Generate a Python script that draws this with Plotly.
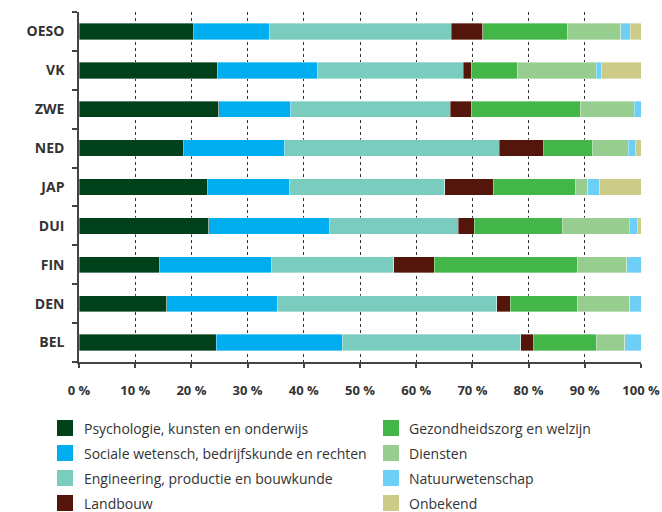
import plotly.graph_objects as go

countries = ["OESO", "VK", "ZWE", "NED", "JAP", "DUI", "FIN", "DEN", "BEL"]
psychologie = [20.4, 24.6, 24.9, 18.6, 22.9, 23.1, 14.4, 15.6, 24.4]
sociale = [13.5, 17.8, 12.8, 18.0, 14.6, 21.5, 19.9, 19.8, 22.4]
engineering = [32.3, 26.0, 28.4, 38.2, 27.6, 22.9, 21.7, 38.9, 31.8]
landbouw = [5.6, 1.4, 3.7, 7.9, 8.6, 2.8, 7.2, 2.4, 2.3]
gezondheid = [15.1, 8.2, 19.4, 8.7, 14.7, 15.7, 25.5, 12.0, 11.1]
diensten = [9.5, 14.0, 9.6, 6.3, 2.1, 11.9, 8.8, 9.3, 5.1]
natuur = [1.7, 1.0, 1.2, 1.3, 2.2, 1.4, 2.5, 2.0, 2.9]
onbekend = [1.9, 7.0, 0.0, 1.0, 7.3, 0.7, 0.0, 0.0, 0.0]

series_names = [
    "Psychologie, kunsten en onderwijs",
    "Sociale wetensch, bedrijfskunde en rechten",
    "Engineering, productie en bouwkunde",
    "Landbouw",
    "Gezondheidszorg en welzijn",
    "Diensten",
    "Natuurwetenschap",
    "Onbekend",
]
series_values = [psychologie, sociale, engineering, landbouw,
                 gezondheid, diensten, natuur, onbekend]
colors = ["#00401b", "#00aeef", "#7accbe", "#54150b",
          "#42b649", "#97cd8f", "#6dcff6", "#cccb87"]

xtick_values = list(range(0, 101, 10))
xtick_labels = [f"{v} %" for v in xtick_values]

FONT = "Open Sans"
TXT = "#333333"

fig = go.Figure()
for name, vals, col in zip(series_names, series_values, colors):
    fig.add_trace(go.Bar(
        y=countries, x=vals, name=name, orientation="h",
        marker=dict(color=col, line=dict(width=0.6, color="rgba(255,255,255,0.6)")),
        width=0.42, showlegend=False,
    ))

# plot area geometry (pixels) used to place the manual legend
L, R, T, B = 79, 641, 12, 362
W, H = R - L, B - T

def px2paper(px, py):
    return (px - L) / W, (B - py) / H

shapes = []
annotations = []
rows_y = [428, 453, 478, 503]
cols = [(57, 84), (383, 409)]
for i, (name, col) in enumerate(zip(series_names, colors)):
    c = i // 4
    r = i % 4
    sx, tx = cols[c]
    cy = rows_y[r]
    x0, y0 = px2paper(sx, cy + 8)
    x1, y1 = px2paper(sx + 16, cy - 8)
    shapes.append(dict(type="rect", xref="paper", yref="paper",
                       x0=x0, x1=x1, y0=y0, y1=y1,
                       fillcolor=col, line=dict(width=0)))
    ax, ay = px2paper(tx - 2, cy)
    annotations.append(dict(xref="paper", yref="paper", x=ax, y=ay,
                            xanchor="left", yanchor="middle", showarrow=False,
                            text=name, font=dict(family=FONT, size=14, color=TXT)))

fig.update_layout(
    width=662, height=512, autosize=False,
    margin=dict(l=L, r=662 - R, t=T, b=512 - B),
    barmode="stack", bargap=0.6,
    plot_bgcolor="white", paper_bgcolor="white",
    font=dict(family=FONT, color=TXT),
    shapes=shapes, annotations=annotations,
    xaxis=dict(
        range=[0, 100], tickmode="array", tickvals=xtick_values, ticktext=xtick_labels,
        showgrid=True, gridcolor="#333333", griddash="dot", gridwidth=1,
        showline=True, linecolor="#444444", linewidth=1.5,
        ticks="outside", ticklen=4, tickcolor="#444444", tickwidth=1.5,
        tickfont=dict(family=FONT, size=13, color=TXT, weight="bold"),
        ticklabelstandoff=12, zeroline=False, fixedrange=True, automargin=False,
    ),
    yaxis=dict(
        categoryorder="array", categoryarray=countries[::-1],
        showgrid=False, showline=True, linecolor="#444444", linewidth=1.5,
        ticks="outside", ticklen=5, tickcolor="#444444", tickwidth=1.5,
        tickson="boundaries",
        tickfont=dict(family=FONT, size=14, color=TXT, weight="bold"),
        ticklabelstandoff=10, zeroline=False, fixedrange=True, automargin=False,
    ),
)

fig.write_html(
    "out.html",
    config={"displayModeBar": False},
    post_script="document.body.style.margin='0px';document.body.style.overflow='hidden';",
)
